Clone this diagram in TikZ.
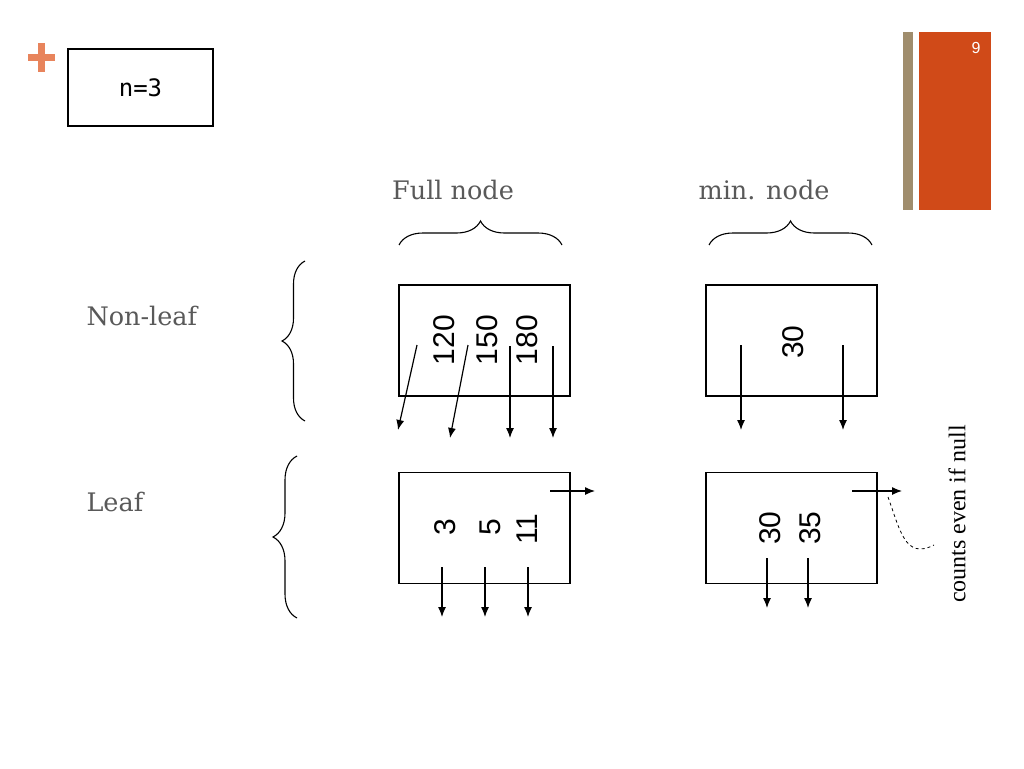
\documentclass[tikz,border=0pt]{standalone}
\usepackage{fontspec}
\usepackage{xcolor}
\setmainfont{DejaVu Serif}
\newfontfamily\numfont{Liberation Sans}
\newfontfamily\ordfont{DejaVu Sans Mono}
\newfontfamily\notefont{Liberation Serif}
\newfontfamily\pagefont{Liberation Sans}
\usetikzlibrary{arrows.meta,decorations.pathreplacing}
\definecolor{plusorange}{HTML}{E8845C}
\definecolor{bartan}{HTML}{A08D6D}
\definecolor{barorange}{HTML}{D04A18}
\definecolor{labelgray}{HTML}{595959}

\begin{document}
\begin{tikzpicture}[x=1pt, y=-1pt,
    box/.style = {draw, line width=1.1pt, minimum width=171pt, minimum height=111pt, inner sep=0pt},
    key/.style = {font=\numfont\fontsize{30}{30}\selectfont, rotate=90},
    heading/.style = {font=\fontsize{25.5}{25.5}\selectfont, text=labelgray},
    ptr/.style = {-{Latex[length=10pt,width=8pt]}, line width=1.2pt},
    grp/.style = {decorate, line width=1.1pt}]
  \useasboundingbox (0,0) rectangle (1024,768);

  % slide decoration
  \fill[plusorange] (38,43) rectangle (45,72);
  \fill[plusorange] (28,54) rectangle (55,61);
  \fill[bartan] (903,32) rectangle (913,210);
  \fill[barorange] (919,32) rectangle (991,210);
  \node[text=white, font=\pagefont\fontsize{16}{16}\selectfont] (page) at (976,48) {9};

  % order of the tree
  \node[draw, line width=1.1pt, minimum width=145pt, minimum height=77pt,
    font=\ordfont\fontsize{24}{24}\selectfont] (order) at (140.5,87.5) {n=3};

  % column and row headings
  \node[heading] (full) at (453,190) {Full node};
  \node[heading] (min) at (764,190) {min. node};
  \node[heading, anchor=west] (nonleaf) at (83,316) {Non-leaf};
  \node[heading, anchor=west] (leaf) at (83,502) {Leaf};
  \draw[grp, decoration={brace, amplitude=24pt}] (399,245) -- (562,245);
  \draw[grp, decoration={brace, amplitude=24pt}] (709,245) -- (872,245);
  \draw[grp, decoration={brace, amplitude=23pt}] (305,421) -- (305,261);
  \draw[grp, decoration={brace, amplitude=24pt}] (297,618) -- (297,456);

  % the four nodes
  \node[box] (fi) at (484.5,340.5) {};
  \node[box] (mi) at (791.5,340.5) {};
  \node[box] (fl) at (484.5,528) {};
  \node[box] (ml) at (791.5,528) {};

  \node[key] (k120) at (444,340) {120};
  \node[key] (k150) at (487,340) {150};
  \node[key] (k180) at (527,340) {180};
  \node[key] (k30a) at (793,342) {30};
  \node[key] (k3) at (445,527) {3};
  \node[key] (k5) at (490,527) {5};
  \node[key] (k11) at (527,529) {11};
  \node[key] (k30b) at (770,528) {30};
  \node[key] (k35) at (810,528) {35};

  % pointers
  \foreach \i/\sx/\sy/\ex/\ey in {1/417/345/398/430, 2/468/345/450/438,
      3/510/346/510/438, 4/553/346/553/438, 5/741/345/741/430, 6/843/345/843/430,
      7/442/567/442/617, 8/485/567/485/617, 9/528/567/528/617,
      10/767/558/767/608, 11/808/558/808/608, 12/550/491/595/491, 13/852/491/902/491}
  {
    \coordinate (s\i) at (\sx,\sy);
    \coordinate (e\i) at (\ex,\ey);
    \draw[ptr] (s\i) -- (e\i);
  }

  % note on the next pointer
  \node[rotate=90, font=\notefont\fontsize{24}{24}\selectfont] (note) at (957,514) {counts even if null};
  \coordinate (c0) at (888,497);
  \coordinate (c1) at (934,545);
  \draw[dashed, line width=0.8pt] (c0) .. controls (900,530) and (905,560) .. (c1);
\end{tikzpicture}
\end{document}
